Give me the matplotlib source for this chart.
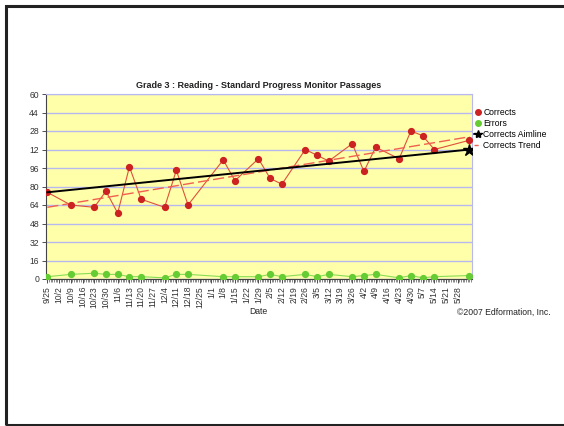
import numpy as np
import pandas as pd
import matplotlib
matplotlib.use("Agg")
import matplotlib.pyplot as plt
import matplotlib.dates as mdates
from matplotlib.patches import Rectangle
from matplotlib.lines import Line2D

plt.rcParams['font.family'] = ['Liberation Sans', 'DejaVu Sans']

# data
correct_dates = ['2006-09-25', '2006-10-09', '2006-10-23', '2006-10-30', '2006-11-06',
                 '2006-11-13', '2006-11-20', '2006-12-04', '2006-12-11', '2006-12-18',
                 '2007-01-08', '2007-01-15', '2007-01-29', '2007-02-05', '2007-02-12',
                 '2007-02-26', '2007-03-05', '2007-03-12', '2007-03-26', '2007-04-02',
                 '2007-04-09', '2007-04-23', '2007-04-30', '2007-05-07', '2007-05-14',
                 '2007-06-04']
corrects = [75, 64, 62, 76, 57, 97, 69, 62, 94, 64,
            103, 85, 104, 87, 82, 112, 107, 102, 117, 93,
            114, 104, 128, 124, 112, 120]
errors = [2, 4, 5, 4, 4, 2, 2, 1, 4, 4,
          2, 2, 2, 4, 2, 4, 2, 4, 2, 3,
          4, 1, 3, 1, 2, 3]

aim_dates = ['2006-09-25', '2007-06-04']
aim_values = [75, 112]
trend_dates = ['2006-09-25', '2007-06-04']
trend_values = [62, 123]

tick_labels = ['9/25', '10/2', '10/9', '10/16', '10/23', '10/30', '11/6', '11/13', '11/20',
               '11/27', '12/4', '12/11', '12/18', '12/25', '1/1', '1/8', '1/15', '1/22',
               '1/29', '2/5', '2/12', '2/19', '2/26', '3/5', '3/12', '3/19', '3/26', '4/2',
               '4/9', '4/16', '4/23', '4/30', '5/7', '5/14', '5/21', '5/28']
y_ticks = [0, 16, 32, 48, 64, 80, 96, 112, 128, 144, 160]
y_tick_labels = ['0', '16', '32', '48', '64', '80', '96', '12', '28', '44', '60']

cd = pd.to_datetime(correct_dates)
tick_dates = pd.date_range('2006-09-25', periods=len(tick_labels), freq='7D')

fig = plt.figure(figsize=(5.64, 4.26), dpi=100)
# outer frame of the page
fig.patches.append(Rectangle((6 / 564, 1 / 426), 1.2, 419 / 426, transform=fig.transFigure,
                             fill=False, edgecolor='#222222', linewidth=2.2))

ax = fig.add_axes([46 / 564, 147 / 426, 426 / 564, 185 / 426])
ax.set_facecolor('#ffffaa')

ax.plot(cd, corrects, color='#e0503c', linewidth=0.8, zorder=3)
ax.plot(cd, corrects, 'o', color='#cc2222', markersize=4.2, zorder=4)
ax.plot(cd, errors, color='#88dd55', linewidth=0.8, zorder=3)
ax.plot(cd, errors, 'o', color='#66cc33', markersize=4.2, zorder=4)
ax.plot(pd.to_datetime(trend_dates), trend_values, color='#f06050', linewidth=1.0,
        dashes=(8, 3), zorder=3)
ax.plot(pd.to_datetime(aim_dates), aim_values, color='black', linewidth=1.4, zorder=5)
ax.plot(pd.to_datetime(aim_dates[-1:]), aim_values[-1:], '*', color='black',
        markersize=9, zorder=6)

ax.set_ylim(0, 160)
ax.set_yticks(y_ticks)
ax.set_yticklabels(y_tick_labels)
ax.set_xlim(pd.Timestamp('2006-09-24 05:00'), pd.Timestamp('2007-06-05 12:00'))
ax.set_xticks(tick_dates)
ax.set_xticklabels(tick_labels, rotation=90)
ax.xaxis.set_minor_locator(mdates.DayLocator())
ax.tick_params(axis='both', labelsize=6.2, colors='#333333', length=3, width=0.6, pad=2)
ax.tick_params(axis='x', which='minor', length=2, width=0.4, color='#333333')
ax.grid(axis='y', color='#b8b8f0', linewidth=1.0)
ax.set_axisbelow(True)
for s in ['top', 'right']:
    ax.spines[s].set_color('#b8b8f0')
for s in ['left', 'bottom']:
    ax.spines[s].set_color('#444444')
    ax.spines[s].set_linewidth(0.8)

ax.set_title('Grade 3 : Reading - Standard Progress Monitor Passages', fontsize=6.5,
             fontweight='bold', color='#222222', pad=4)
fig.text(258 / 564, 1 - 312 / 426, 'Date', fontsize=6.2, ha='center', va='center',
         color='#222222')
fig.text(551 / 564, 1 - 312 / 426, '\u00a92007 Edformation, Inc.', fontsize=6.2,
         ha='right', va='center', color='#222222')

handles = [Line2D([], [], marker='o', color='#cc2222', linestyle='none', markersize=4),
           Line2D([], [], marker='o', color='#66cc33', linestyle='none', markersize=4),
           Line2D([], [], marker='*', color='black', linewidth=1.2, markersize=6),
           Line2D([], [], color='#f06050', linewidth=1.0, dashes=(3, 2))]
ax.legend(handles, ['Corrects', 'Errors', 'Corrects Aimline', 'Corrects Trend'],
          loc='upper left', bbox_to_anchor=(1.0, 0.935), frameon=False, fontsize=6.2,
          handlelength=0.9, handletextpad=0.2, labelspacing=0.25, borderaxespad=0.2,
          borderpad=0.0)

fig.savefig('out.png', dpi=100)
